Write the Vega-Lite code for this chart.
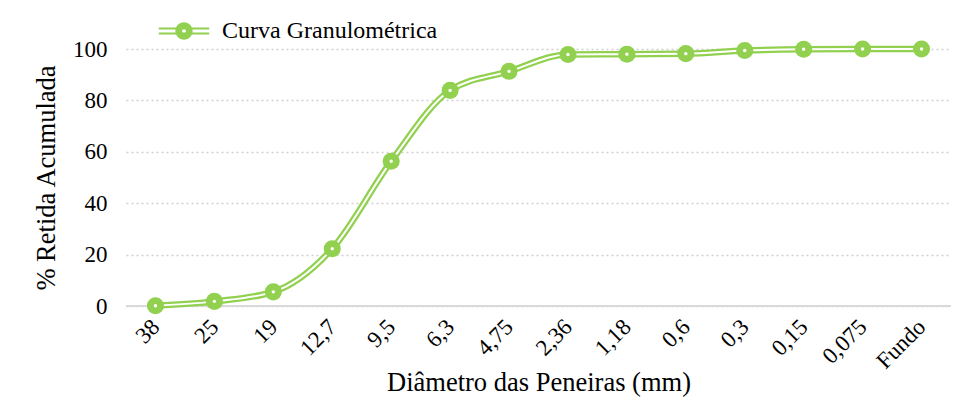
{
  "$schema": "https://vega.github.io/schema/vega-lite/v6.json",
  "autosize": "none",
  "width": 825,
  "height": 257,
  "padding": {"left": 126, "top": 49, "right": 12, "bottom": 104},
  "background": "white",
  "config": {
    "font": "Liberation Serif",
    "view": {"stroke": null},
    "axis": {"labelFont": "Liberation Serif", "titleFont": "Liberation Serif", "labelColor": "black", "titleColor": "black", "titleFontWeight": "normal"}
  },
  "data": {
    "values": [
      {"d": "38", "o": 0, "v": 0.1, "s": "Curva Granulométrica"},
      {"d": "25", "o": 1, "v": 1.8, "s": "Curva Granulométrica"},
      {"d": "19", "o": 2, "v": 5.5, "s": "Curva Granulométrica"},
      {"d": "12,7", "o": 3, "v": 22.3, "s": "Curva Granulométrica"},
      {"d": "9,5", "o": 4, "v": 56.3, "s": "Curva Granulométrica"},
      {"d": "6,3", "o": 5, "v": 83.9, "s": "Curva Granulométrica"},
      {"d": "4,75", "o": 6, "v": 91.3, "s": "Curva Granulométrica"},
      {"d": "2,36", "o": 7, "v": 97.9, "s": "Curva Granulométrica"},
      {"d": "1,18", "o": 8, "v": 98.0, "s": "Curva Granulométrica"},
      {"d": "0,6", "o": 9, "v": 98.2, "s": "Curva Granulométrica"},
      {"d": "0,3", "o": 10, "v": 99.4, "s": "Curva Granulométrica"},
      {"d": "0,15", "o": 11, "v": 99.9, "s": "Curva Granulométrica"},
      {"d": "0,075", "o": 12, "v": 100, "s": "Curva Granulométrica"},
      {"d": "Fundo", "o": 13, "v": 100, "s": "Curva Granulométrica"}
    ]
  },
  "encoding": {
    "x": {
      "field": "d", "type": "ordinal", "sort": {"field": "o"},
      "scale": {"paddingInner": 0, "paddingOuter": 0},
      "axis": {
        "title": "Diâmetro das Peneiras (mm)", "titleFontSize": 26.5, "titlePadding": -4,
        "labelAngle": -45, "labelFontSize": 23, "labelAlign": "right", "labelBaseline": "middle",
        "labelPadding": 17, "ticks": false, "domain": false, "grid": false
      }
    },
    "y": {
      "field": "v", "type": "quantitative",
      "scale": {"domain": [0, 100], "nice": false},
      "axis": {
        "title": "% Retida Acumulada", "titleFontSize": 26.5, "titlePadding": 12,
        "values": [0, 20, 40, 60, 80, 100], "labelFontSize": 23, "labelPadding": 19,
        "ticks": false, "domain": false, "grid": true, "gridColor": "#d0d0d0",
        "gridDash": [2, 3], "gridWidth": 1.3
      }
    }
  },
  "layer": [
    {
      "mark": {"type": "rule", "color": "#d9d9d9", "strokeWidth": 1.5},
      "encoding": {"x": {"value": 0}, "x2": {"value": 825}, "y": {"datum": 0}}
    },
    {
      "mark": {"type": "line", "interpolate": "monotone", "strokeWidth": 6.5},
      "encoding": {
        "color": {
          "field": "s", "type": "nominal",
          "scale": {"range": ["#92D050"]},
          "legend": {
            "title": null, "orient": "none", "legendX": 34, "legendY": -42,
            "labelFontSize": 24, "labelFont": "Liberation Serif", "labelColor": "black", "labelLimit": 500,
            "symbolType": "M-1.05,-0.15 L1.05,-0.15 L1.05,-0.06 L-1.05,-0.06 Z M-1.05,0.06 L1.05,0.06 L1.05,0.15 L-1.05,0.15 Z M0.36,0 A0.36,0.36 0 1,1 -0.36,0 A0.36,0.36 0 1,1 0.36,0 Z M0.08,0 A0.08,0.08 0 1,0 -0.08,0 A0.08,0.08 0 1,0 0.08,0 Z",
            "symbolSize": 2304, "symbolFillColor": "#92D050", "symbolStrokeWidth": 0,
            "labelOffset": 14
          }
        }
      }
    },
    {
      "mark": {"type": "line", "interpolate": "monotone", "strokeWidth": 2, "color": "white"}
    },
    {
      "mark": {"type": "point", "filled": true, "shape": "circle", "size": 290, "color": "#92D050", "opacity": 1}
    },
    {
      "mark": {"type": "point", "filled": true, "shape": "circle", "size": 12, "color": "white", "opacity": 1}
    }
  ]
}
